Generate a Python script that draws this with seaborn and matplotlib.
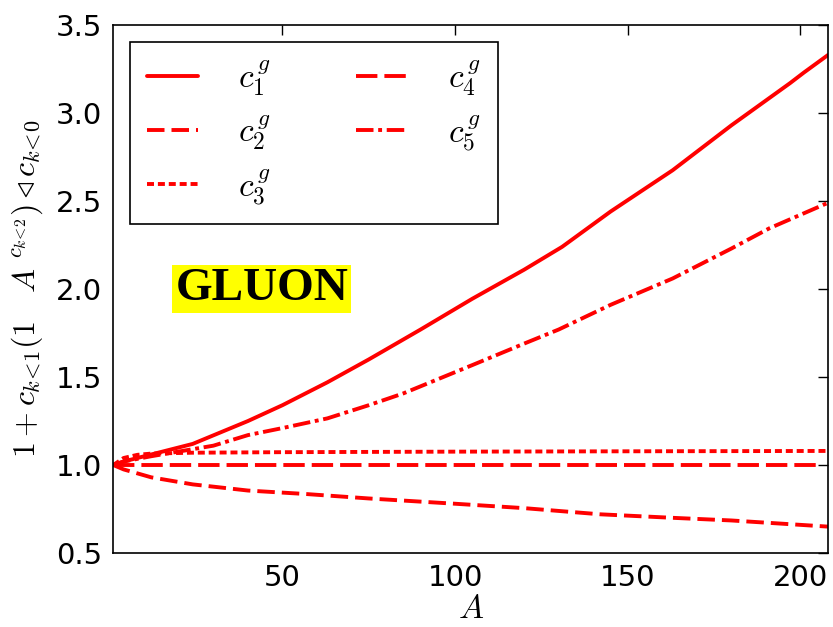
import numpy as np
import pandas as pd
import matplotlib
matplotlib.use("Agg")
import matplotlib.pyplot as plt
import seaborn as sns

# ---- data ----
A1 = [1, 4, 12, 24, 40, 50, 63, 75, 90, 105, 120, 131, 145, 163, 180, 197, 201, 208]
c1 = [1.0, 1.02, 1.06, 1.12, 1.25, 1.34, 1.47, 1.60, 1.77, 1.945, 2.11, 2.24, 2.44, 2.675, 2.93, 3.17, 3.23, 3.33]

A2 = [1, 4, 12, 24, 30, 40, 57, 75, 100, 120, 142, 163, 180, 208]
c2 = [1.0, 0.975, 0.93, 0.89, 0.877, 0.855, 0.835, 0.81, 0.78, 0.755, 0.72, 0.70, 0.685, 0.65]

A3 = [1, 4, 8, 12, 24, 50, 100, 150, 208]
c3 = [1.0, 1.04, 1.058, 1.065, 1.07, 1.073, 1.076, 1.078, 1.08]

A4 = [1, 50, 100, 150, 206]
c4 = [1.0, 1.0, 1.0, 1.0, 1.0]

A5 = [1, 4, 12, 24, 30, 40, 50, 63, 75, 85, 105, 120, 130, 145, 163, 180, 191, 208]
c5 = [1.0, 1.02, 1.05, 1.09, 1.11, 1.17, 1.21, 1.265, 1.34, 1.407, 1.568, 1.69, 1.77, 1.91, 2.06, 2.23, 2.345, 2.49]

labels = [r"$c_1^{\,g}$", r"$c_2^{\,g}$", r"$c_3^{\,g}$", r"$c_4^{\,g}$", r"$c_5^{\,g}$"]
styles = [
    "-",
    (0, (4.5, 1.8)),
    (0, (1.8, 1.0)),
    (0, (5.5, 1.8)),
    (0, (4.5, 1.2, 1.0, 1.2)),
]

sns.set_style("white")
plt.rcParams["mathtext.fontset"] = "cm"
plt.rcParams["font.family"] = ["DejaVu Sans"]
plt.rcParams["text.color"] = "black"
plt.rcParams["axes.labelcolor"] = "black"

fig = plt.figure(figsize=(8.33, 6.27), dpi=100)
ax = fig.add_axes([0.136, 0.118, 0.858, 0.842])

series = [(A1, c1), (A2, c2), (A3, c3), (A4, c4), (A5, c5)]
for (xs, ys), lab, ls in zip(series, labels, styles):
    df = pd.DataFrame({"A": xs, "v": ys})
    sns.lineplot(data=df, x="A", y="v", ax=ax, color="red", lw=2.8,
                 linestyle=ls, label=lab, sort=True)

ax.set_xlim(1, 208)
ax.set_ylim(0.5, 3.5)
ax.set_xticks([50, 100, 150, 200])
ax.set_yticks([0.5, 1.0, 1.5, 2.0, 2.5, 3.0, 3.5])
ax.tick_params(axis="both", direction="in", length=7, width=1, top=True, right=True,
               labelsize=21, pad=8, color="black", labelcolor="black")
for s in ax.spines.values():
    s.set_color("black")
    s.set_linewidth(1.2)

ax.set_xlabel(r"$A$", fontsize=24, labelpad=0, color="black")
ax.set_ylabel(r"$1+c_{k\!<\!1}(1\quad A^{\ c_{k\!<\!2}})\triangleleft c_{k\!<\!0}$",
              fontsize=23, labelpad=8, color="black")

leg = ax.legend(loc="upper left", ncol=2, fontsize=24, frameon=True, fancybox=False,
                edgecolor="black", framealpha=1, handlelength=1.55, handletextpad=1.2,
                columnspacing=2.55, labelspacing=0.45, borderaxespad=0.5,
                borderpad=0.5, bbox_to_anchor=(0.0, 1.0))
leg.get_frame().set_linewidth(1.2)

ax.text(44, 2.0, "GLUON", fontsize=34, fontweight="bold", family="Liberation Serif",
        color="black", ha="center", va="center",
        bbox=dict(facecolor="yellow", edgecolor="none", pad=2))

fig.savefig("out.png", dpi=100)
